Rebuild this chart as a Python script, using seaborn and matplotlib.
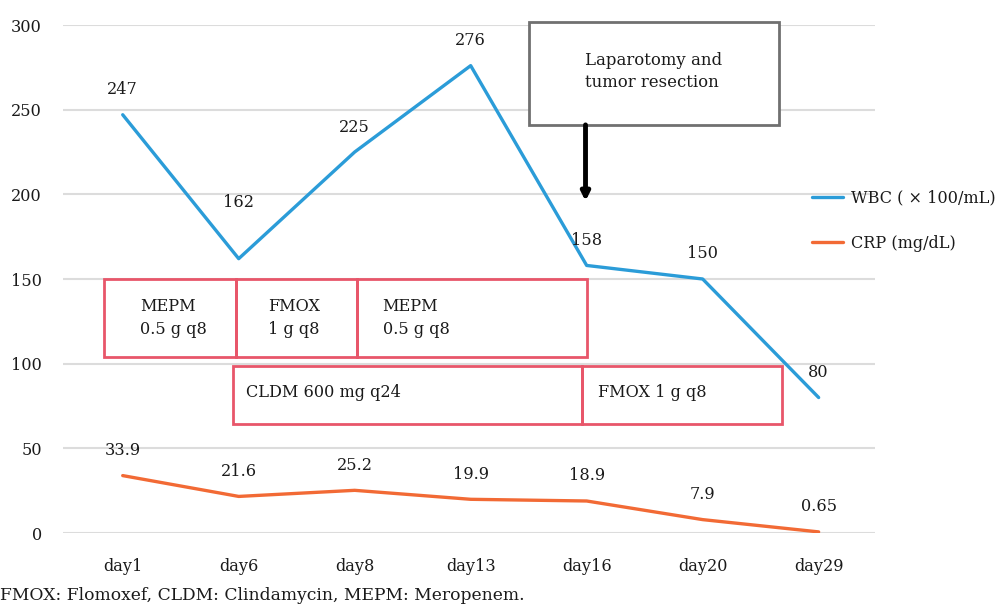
import matplotlib
matplotlib.use("Agg")
import matplotlib.pyplot as plt
import seaborn as sns
import pandas as pd
from matplotlib.patches import Rectangle

days = ["day1", "day6", "day8", "day13", "day16", "day20", "day29"]
wbc = [247, 162, 225, 276, 158, 150, 80]
crp = [33.9, 21.6, 25.2, 19.9, 18.9, 7.9, 0.65]
crp_labels = ["33.9", "21.6", "25.2", "19.9", "18.9", "7.9", "0.65"]
series_names = ["WBC ( \u00d7 100/mL)", "CRP (mg/dL)"]
yticks = [0, 50, 100, 150, 200, 250, 300]
footnote = "FMOX: Flomoxef, CLDM: Clindamycin, MEPM: Meropenem."
surgery_text = "Laparotomy and\ntumor resection"

sns.set_theme(style="white")
plt.rcParams["font.family"] = ["DejaVu Serif", "Liberation Serif"]
plt.rcParams["text.color"] = "#1a1a1a"
plt.rcParams["xtick.color"] = "#1a1a1a"
plt.rcParams["ytick.color"] = "#1a1a1a"

BLUE = "#2b9cd8"
ORANGE = "#f26a35"
RED = "#e8566a"
FS = 11.6

df = pd.DataFrame({
    "day": days * 2,
    "x": list(range(len(days))) * 2,
    "value": wbc + crp,
    "series": [series_names[0]] * len(days) + [series_names[1]] * len(days),
})

fig = plt.figure(figsize=(9.96, 6.04), dpi=100)
ax = fig.add_axes([0.063, 1 - 533 / 604, 0.879 - 0.063, (533 - 25) / 604])

sns.lineplot(data=df, x="x", y="value", hue="series", palette=[BLUE, ORANGE],
             linewidth=2.4, ax=ax, legend=True)

ax.set_xlim(-0.517, 6.49)
ax.set_ylim(0, 300)
ax.set_yticks(yticks)
ax.set_yticklabels([str(t) for t in yticks], fontsize=FS)
ax.set_xticks(range(len(days)))
ax.set_xticklabels(days, fontsize=FS)
ax.tick_params(axis="y", length=0, pad=15)
ax.tick_params(axis="x", length=0, pad=18)
ax.set_xlabel("")
ax.set_ylabel("")
for s in ax.spines.values():
    s.set_visible(False)
ax.yaxis.grid(True, color="#dcdcdc", linewidth=1.5)
ax.set_axisbelow(True)

# data labels
for i, v in enumerate(wbc):
    dy = 56 if i == 1 else 25
    ax.annotate(str(v), (i, v), xytext=(0, dy * 0.72), textcoords="offset points",
                ha="center", va="center", fontsize=FS)
for i, v in enumerate(crp):
    ax.annotate(crp_labels[i], (i, v), xytext=(0, 25 * 0.72), textcoords="offset points",
                ha="center", va="center", fontsize=FS)

# treatment boxes
def box(x0, x1, y0, y1, color, lw=2.0):
    ax.add_patch(Rectangle((x0, y0), x1 - x0, y1 - y0, fill=False,
                           edgecolor=color, linewidth=lw, zorder=3))

box(-0.164, 0.974, 104, 150, RED)
box(0.974, 2.02, 104, 150, RED)
box(2.02, 4.0, 104, 150, RED)
box(0.948, 3.96, 64.5, 98.6, RED)
box(3.96, 5.68, 64.5, 98.6, RED)

ax.text(0.15, 127, "MEPM\n0.5 g q8", ha="left", va="center", fontsize=FS, linespacing=1.45)
ax.text(1.25, 127, "FMOX\n1 g q8", ha="left", va="center", fontsize=FS, linespacing=1.45)
ax.text(2.24, 127, "MEPM\n0.5 g q8", ha="left", va="center", fontsize=FS, linespacing=1.45)
ax.text(1.06, 83, "CLDM 600 mg q24", ha="left", va="center", fontsize=FS)
ax.text(4.10, 83, "FMOX 1 g q8", ha="left", va="center", fontsize=FS)

# surgery box + arrow
ax.add_patch(Rectangle((3.5, 241), 5.655 - 3.5, 301.5 - 241, fill=True, facecolor="white",
                       edgecolor="#707070", linewidth=2.0, zorder=3, clip_on=False))
ax.text((3.5 + 5.655) / 2, 272.5, surgery_text, ha="center", va="center",
        multialignment="left", fontsize=FS + 0.3, linespacing=1.45, zorder=4)
ax.annotate("", xy=(3.99, 196), xytext=(3.99, 241),
            arrowprops=dict(arrowstyle="-|>", color="black", lw=3.5,
                            mutation_scale=12, shrinkA=0, shrinkB=0), zorder=4)

# legend
handles, labels = ax.get_legend_handles_labels()
ax.legend(handles, labels, loc="upper left", bbox_to_anchor=(806 / 996, 1 - 183 / 604),
          bbox_transform=fig.transFigure, frameon=False, fontsize=FS,
          handlelength=1.9, handletextpad=0.5, labelspacing=1.75, borderaxespad=0)

fig.text(0.0, 1 - 596 / 604, footnote, ha="left", va="center", fontsize=12.3)

fig.savefig("out.png", dpi=100)
